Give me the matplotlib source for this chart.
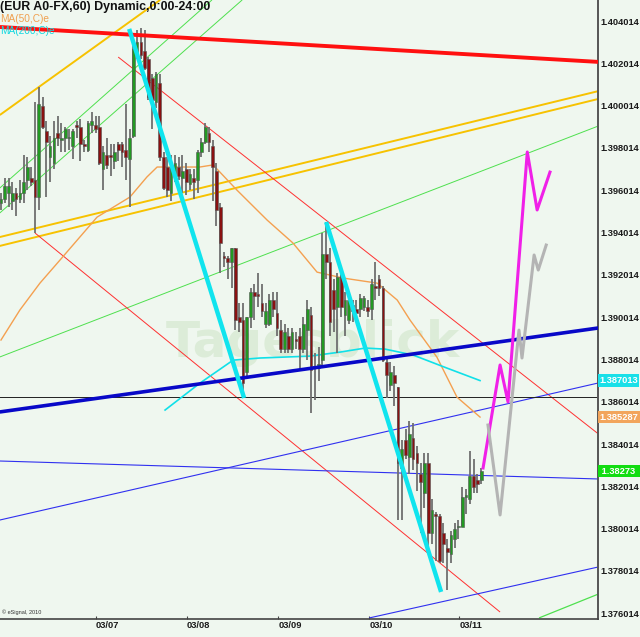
import matplotlib
matplotlib.use('Agg')
import matplotlib.pyplot as plt
from matplotlib import font_manager as fm
from matplotlib.patches import Rectangle

# ---------------- data (EUR/USD hourly candles) ----------------
opens = [1.3954, 1.3956, 1.3959, 1.3955, 1.3959, 1.3956, 1.3959, 1.3965, 1.3966, 1.3965,
         1.3957, 1.4000, 1.3988, 1.3976, 1.3973, 1.3987, 1.3984, 1.3985, 1.3985, 1.3981,
         1.3991, 1.3990, 1.3982, 1.3979, 1.3991, 1.3991, 1.3990, 1.3970, 1.3977, 1.3977,
         1.3974, 1.3982, 1.3982, 1.3979, 1.3975, 1.3986, 1.4023, 1.4030, 1.4026, 1.4022,
         1.4013, 1.4002, 1.4011, 1.3976, 1.3971, 1.3959, 1.3967, 1.3971, 1.3966, 1.3970,
         1.3963, 1.3966, 1.3965, 1.3978, 1.3983, 1.3987, 1.3981, 1.3969, 1.3952, 1.3929,
         1.3928, 1.3926, 1.3933, 1.3900, 1.3899, 1.3874, 1.3900, 1.3912, 1.3911, 1.3907,
         1.3897, 1.3897, 1.3908, 1.3902, 1.3894, 1.3885, 1.3891, 1.3885, 1.3890, 1.3891,
         1.3885, 1.3894, 1.3901, 1.3876, 1.3876, 1.3880, 1.3930, 1.3926, 1.3913, 1.3905,
         1.3920, 1.3901, 1.3899, 1.3906, 1.3904, 1.3904, 1.3905, 1.3905, 1.3904, 1.3915,
         1.3918, 1.3914, 1.3879, 1.3868, 1.3873, 1.3867, 1.3829, 1.3842, 1.3834, 1.3843,
         1.3836, 1.3826, 1.3817, 1.3831, 1.3798, 1.3807, 1.3806, 1.3798, 1.3791, 1.3788,
         1.3795, 1.3801, 1.3801, 1.3815, 1.3814, 1.3825, 1.3823, 1.3823]
highs = [1.3959, 1.3966, 1.3966, 1.3964, 1.3961, 1.3965, 1.3977, 1.3976, 1.3971, 1.4002,
         1.4009, 1.4004, 1.3993, 1.3986, 1.3993, 1.3995, 1.3992, 1.3990, 1.3989, 1.3989,
         1.3993, 1.3994, 1.3984, 1.3993, 1.3997, 1.3995, 1.3995, 1.3981, 1.3985, 1.3982,
         1.3982, 1.3983, 1.3983, 1.4001, 1.3989, 1.4030, 1.4036, 1.4037, 1.4036, 1.4023,
         1.4015, 1.4016, 1.4015, 1.3978, 1.3976, 1.3977, 1.3977, 1.3976, 1.3977, 1.3973,
         1.3970, 1.3970, 1.3979, 1.3985, 1.3992, 1.3990, 1.3984, 1.3973, 1.3954, 1.3931,
         1.3929, 1.3933, 1.3933, 1.3907, 1.3907, 1.3900, 1.3914, 1.3916, 1.3921, 1.3916,
         1.3907, 1.3911, 1.3912, 1.3912, 1.3899, 1.3897, 1.3895, 1.3895, 1.3893, 1.3895,
         1.3900, 1.3908, 1.3905, 1.3883, 1.3886, 1.3940, 1.3945, 1.3933, 1.3918, 1.3921,
         1.3921, 1.3912, 1.3911, 1.3908, 1.3908, 1.3911, 1.3910, 1.3908, 1.3918, 1.3926,
         1.3920, 1.3915, 1.3881, 1.3879, 1.3877, 1.3867, 1.3842, 1.3847, 1.3851, 1.3850,
         1.3839, 1.3831, 1.3836, 1.3836, 1.3814, 1.3808, 1.3807, 1.3803, 1.3795, 1.3799,
         1.3803, 1.3804, 1.3820, 1.3819, 1.3837, 1.3833, 1.3826, 1.3829]
lows = [1.3951, 1.3954, 1.3952, 1.3951, 1.3948, 1.3954, 1.3954, 1.3960, 1.3962, 1.3940,
        1.3951, 1.3989, 1.3957, 1.3964, 1.3970, 1.3981, 1.3978, 1.3978, 1.3979, 1.3975,
        1.3985, 1.3974, 1.3978, 1.3978, 1.3987, 1.3987, 1.3972, 1.3960, 1.3970, 1.3967,
        1.3970, 1.3974, 1.3971, 1.3965, 1.3952, 1.3985, 1.4022, 1.4022, 1.4017, 1.4003,
        1.3989, 1.3999, 1.3974, 1.3960, 1.3957, 1.3955, 1.3964, 1.3965, 1.3959, 1.3958,
        1.3960, 1.3956, 1.3959, 1.3976, 1.3982, 1.3978, 1.3955, 1.3943, 1.3921, 1.3924,
        1.3918, 1.3914, 1.3894, 1.3893, 1.3862, 1.3872, 1.3895, 1.3899, 1.3905, 1.3900,
        1.3895, 1.3896, 1.3900, 1.3891, 1.3883, 1.3883, 1.3883, 1.3883, 1.3885, 1.3875,
        1.3883, 1.3880, 1.3855, 1.3861, 1.3870, 1.3877, 1.3918, 1.3891, 1.3893, 1.3883,
        1.3900, 1.3891, 1.3897, 1.3898, 1.3899, 1.3900, 1.3903, 1.3900, 1.3899, 1.3908,
        1.3910, 1.3879, 1.3862, 1.3865, 1.3858, 1.3804, 1.3804, 1.3833, 1.3826, 1.3828,
        1.3818, 1.3798, 1.3810, 1.3789, 1.3793, 1.3785, 1.3784, 1.3784, 1.3771, 1.3784,
        1.3791, 1.3795, 1.3801, 1.3807, 1.3812, 1.3817, 1.3817, 1.3821]
closes = [1.3956, 1.3962, 1.3962, 1.3959, 1.3956, 1.3959, 1.3964, 1.3971, 1.3964, 1.3957,
          1.4001, 1.3990, 1.3983, 1.3981, 1.3985, 1.3985, 1.3985, 1.3989, 1.3985, 1.3988,
          1.3990, 1.3982, 1.3981, 1.3992, 1.3993, 1.3989, 1.3973, 1.3978, 1.3972, 1.3976,
          1.3978, 1.3979, 1.3978, 1.3976, 1.3985, 1.4027, 1.4030, 1.4024, 1.4018, 1.4004,
          1.4003, 1.4015, 1.3976, 1.3961, 1.3960, 1.3973, 1.3973, 1.3967, 1.3969, 1.3964,
          1.3968, 1.3964, 1.3978, 1.3983, 1.3990, 1.3983, 1.3971, 1.3951, 1.3935, 1.3928,
          1.3926, 1.3933, 1.3899, 1.3898, 1.3869, 1.3900, 1.3912, 1.3910, 1.3910, 1.3903,
          1.3903, 1.3908, 1.3904, 1.3895, 1.3885, 1.3893, 1.3885, 1.3893, 1.3889, 1.3885,
          1.3897, 1.3904, 1.3875, 1.3877, 1.3878, 1.3930, 1.3926, 1.3898, 1.3904, 1.3919,
          1.3905, 1.3908, 1.3908, 1.3903, 1.3902, 1.3909, 1.3909, 1.3903, 1.3916, 1.3914,
          1.3914, 1.3880, 1.3873, 1.3874, 1.3869, 1.3831, 1.3838, 1.3835, 1.3845, 1.3833,
          1.3831, 1.3822, 1.3831, 1.3798, 1.3809, 1.3806, 1.3785, 1.3793, 1.3789, 1.3797,
          1.3800, 1.3801, 1.3815, 1.3816, 1.3825, 1.3820, 1.3821, 1.38273]

day_labels = ['03/07', '03/08', '03/09', '03/10', '03/11']
day_start_idx = [25.1, 49.2, 73.3, 97.4, 121.2]
price_ticks = [1.376014, 1.378014, 1.380014, 1.382014, 1.384014, 1.386014, 1.388014,
               1.390014, 1.392014, 1.394014, 1.396014, 1.398014, 1.400014, 1.402014, 1.404014]

# moving averages (read at sample bars)
ma50_idx = [0, 5.0, 10.3, 15.6, 25.4, 34.1, 38.6, 41.3, 52.6, 56.1, 62.4, 70.4, 77.2,
            83.6, 90.5, 99.5, 104.8, 108.2, 115.3, 120.6, 126.7]
ma50_val = [1.38893, 1.39035, 1.39162, 1.39271, 1.39474, 1.39569, 1.39664, 1.39711,
            1.39711, 1.39721, 1.39602, 1.39460, 1.39352, 1.39214, 1.39186, 1.39162,
            1.39082, 1.38987, 1.38812, 1.38623, 1.385287]
ma200_idx = [43.4, 52.6, 61.4, 68.5, 81.7, 89.7, 96.3, 101.6, 109.0, 118.0, 126.7]
ma200_val = [1.38562, 1.38689, 1.38798, 1.38808, 1.38817, 1.38836, 1.38855, 1.38850,
             1.38822, 1.38760, 1.387013]

# drawn trendlines: (bar positions, prices)
red_thick = ([-0.3, 158], [1.40373, 1.40208])
gold_steep = ([-0.3, 42.1], [1.39957, 1.40501])
gold_upper = ([-0.3, 158], [1.39380, 1.40070])
gold_lower = ([-0.3, 158], [1.39338, 1.40033])
green_a = ([-0.3, 55.8], [1.39612, 1.40501])
green_b = ([-0.3, 63.8], [1.39494, 1.40501])
green_long = ([-0.3, 158], [1.38813, 1.39905])
green_bottom = ([142.3, 158], [1.37579, 1.37692])
red_upper = ([31.0, 158], [1.40231, 1.38449])
red_lower = ([9.0, 132.0], [1.39399, 1.37607])
blue_thick = ([-0.3, 158], [1.38553, 1.38950])
blue_mid = ([-0.3, 158], [1.38042, 1.38690])
blue_flat = ([-0.3, 158], [1.38321, 1.38236])
blue_bottom = ([97.4, 158], [1.37579, 1.37820])
black_level = 1.38624
cyan_leg1 = ([33.9, 64.3], [1.40364, 1.38619])
cyan_leg2 = ([86.0, 116.4], [1.39451, 1.37702])
magenta_idx = [127.5, 132.0, 134.1, 139.2, 141.8, 145.2]
magenta_val = [1.38288, 1.38775, 1.38600, 1.39782, 1.39508, 1.39687]
gray_idx = [128.8, 132.0, 137.0, 137.8, 141.0, 142.1, 144.2]
gray_val = [1.38491, 1.38066, 1.38940, 1.38808, 1.39295, 1.39224, 1.39342]

last_price = 1.38273
ma200_last = 1.387013
ma50_last = 1.385287

tick_font = dict(family='Liberation Sans', size=6.7, weight='bold')

BG = '#eff7ef'
W, H = 640, 637
fig = plt.figure(figsize=(W / 100, H / 100), dpi=100, facecolor=BG)
ax = fig.add_axes([0, 1 - 619 / H, 598 / W, 619 / H], facecolor=BG)
ax.set_xlim(-0.26, 157.9)
ax.set_ylim(1.375740, 1.405007)

# trendlines (under candles)
def seg(line, color, lw, z=2):
    ax.plot(line[0], line[1], color=color, lw=lw, zorder=z, solid_capstyle='butt')

seg(gold_steep, '#f7c200', 1.4)
seg(gold_upper, '#f7c200', 1.4)
seg(gold_lower, '#f7c200', 1.4)
seg(green_a, '#4ee04e', 0.7)
seg(green_b, '#4ee04e', 0.7)
seg(green_long, '#4ee04e', 0.7)
seg(green_bottom, '#4ee04e', 0.9)
seg(red_upper, '#ff3030', 0.7)
seg(red_lower, '#ff3030', 0.7)
seg(blue_mid, '#3030f0', 0.8)
seg(blue_flat, '#3030f0', 0.8)
seg(blue_bottom, '#3030f0', 0.8)
ax.axhline(black_level, color='#202020', lw=0.7, zorder=2)
ax.plot(ma50_idx, ma50_val, color='#f4a050', lw=1.0, zorder=2)
ax.plot(ma200_idx, ma200_val, color='#10e0e8', lw=1.2, zorder=2)

# watermark
ax.text(82.5, 1.3888, 'Tagesblick', fontsize=36, fontweight='bold', color='#dcecd8',
        ha='center', va='center', zorder=1.5, family='DejaVu Sans')

# candles
body_w = 0.72
for i, (o, h, l, c) in enumerate(zip(opens, highs, lows, closes)):
    ax.plot([i, i], [l, h], color='#6f6f6f', lw=1.3, zorder=3, solid_capstyle='butt')
    up = c >= o
    col = '#229922' if up else '#8a1111'
    bot = min(o, c)
    hgt = max(abs(c - o), 0.00005)
    ax.add_patch(Rectangle((i - body_w / 2, bot), body_w, hgt, facecolor=col,
                           edgecolor='#555555', lw=0.4, zorder=4))

# lines on top
seg(red_thick, '#ff1010', 2.8, 5)
seg(blue_thick, '#0808c8', 2.6, 5)
seg(cyan_leg1, '#10e4ee', 3.2, 6)
seg(cyan_leg2, '#10e4ee', 3.2, 6)
ax.plot(magenta_idx, magenta_val, color='#f020e8', lw=2.2, zorder=6)
ax.plot(gray_idx, gray_val, color='#b4b4b4', lw=2.2, zorder=6)

# axes styling
for s in ['top', 'left']:
    ax.spines[s].set_visible(False)
ax.spines['right'].set_color('#555555')
ax.spines['right'].set_linewidth(1.4)
ax.spines['bottom'].set_color('#444444')
ax.spines['bottom'].set_linewidth(1.2)
ax.yaxis.tick_right()
ax.set_yticks(price_ticks)
ax.set_yticklabels(['%.6f' % v for v in price_ticks])
ax.tick_params(axis='y', length=0, pad=2, colors='#1a1a1a')
for t in ax.get_yticklabels():
    t.set_fontproperties(fm.FontProperties(**tick_font))
ax.set_xticks(day_start_idx)
ax.set_xticklabels([])
ax.tick_params(axis='x', direction='in', length=2, color='#444444')
for d, lab in zip(day_start_idx, day_labels):
    ax.text(d, -0.004, lab, transform=ax.get_xaxis_transform(), ha='left', va='top',
            color='#1a1a1a', **tick_font)

# value boxes on right axis
def value_box(v, txt, fc):
    ax.text(1.002, v, txt, transform=ax.get_yaxis_transform(), ha='left', va='center',
            color='white', zorder=10, clip_on=False,
            bbox=dict(boxstyle='square,pad=0.18', fc=fc, ec='none'), **tick_font)

value_box(ma200_last, '%.6f' % ma200_last, '#19e0e8')
value_box(ma50_last, '%.6f' % ma50_last, '#f2a55c')
value_box(last_price, ' %.5f ' % last_price, '#11dd11')

# header texts
fig.text(0.0, 1 - 7 / H, '(EUR A0-FX,60) Dynamic,0:00-24:00', ha='left', va='center',
         fontsize=8.9, fontweight='bold', family='Liberation Sans', color='#111111')
fig.text(0.0, 1 - 19 / H, 'MA(50,C)e', ha='left', va='center', fontsize=7.3,
         family='Liberation Sans', color='#f0a050')
fig.text(0.0, 1 - 31 / H, 'MA(200,C)e', ha='left', va='center', fontsize=7.3,
         family='Liberation Sans', color='#10d8e0')
fig.text(2 / W, 1 - 612 / H, '\u00a9 eSignal, 2010', ha='left', va='center', fontsize=4,
         family='Liberation Sans', color='#333333')

fig.savefig('out.png', dpi=100, facecolor=BG)
